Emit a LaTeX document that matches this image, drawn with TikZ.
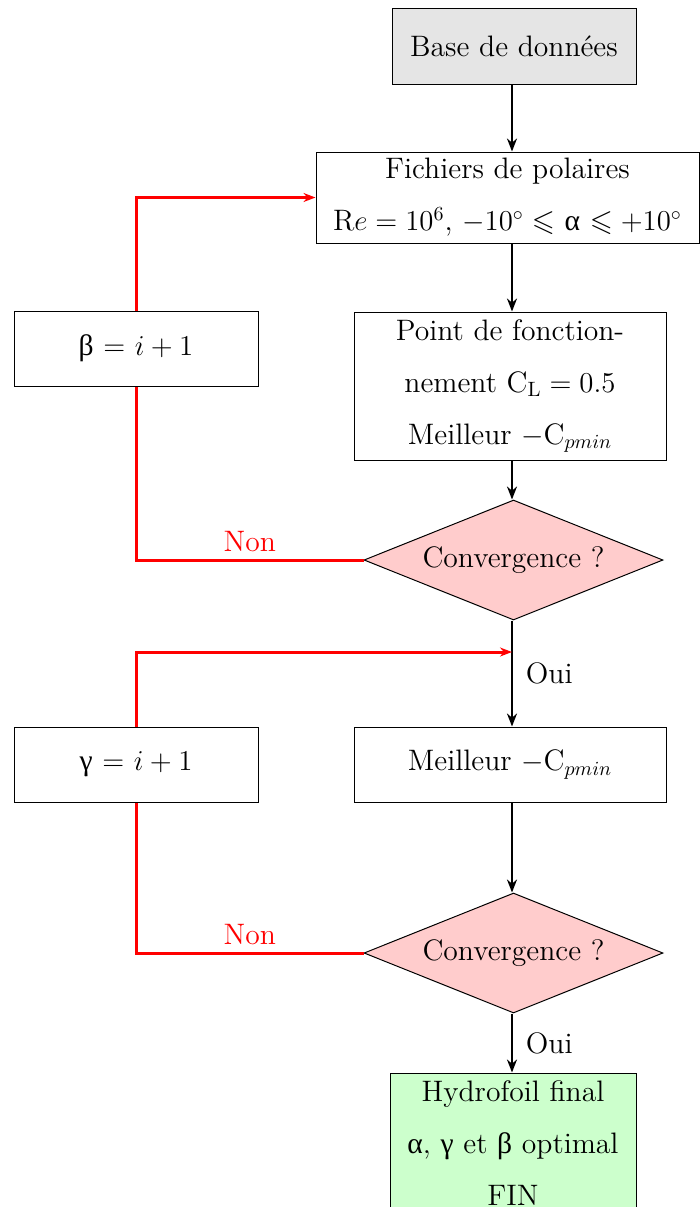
\documentclass[tikz,border=0pt]{standalone}
\usepackage{fontspec}
\usepackage{amssymb}
\usetikzlibrary{shapes.geometric,arrows.meta}
\newfontfamily\grk{Liberation Serif}
\begin{document}
\begin{tikzpicture}[x=0.5pt,y=-0.5pt,
  every node/.style={font=\fontsize{14.8}{26}\selectfont},
  box/.style={draw, line width=0.5pt, inner sep=0pt, align=center},
  arr/.style={line width=1.2pt, -{Stealth[length=6.5pt,width=5pt]}},
  redarr/.style={red, line width=1.5pt, -{Stealth[length=6pt,width=4.5pt]}},
  redline/.style={red, line width=1.5pt},
  dec/.style={diamond, draw, line width=0.5pt, fill=red!20, aspect=2.5, minimum width=149.5pt, minimum height=60pt, inner sep=0pt},
  lab/.style={font=\fontsize{14.8}{17}\selectfont}]
\useasboundingbox (0,0) rectangle (700,1207);
\node[box, fill=black!10, minimum width=122pt, minimum height=38pt] (base) at (514,46) {Base de données};
\node[box, minimum width=191.5pt, minimum height=45.5pt] (fich) at (507.5,197.5) {Fichiers de polaires\\ $\mathrm{R}e=10^6$, $-10^\circ\leqslant$ {\grk α} $\leqslant+10^\circ$};
\node[box, minimum width=156pt, minimum height=74pt] (point) at (510,386) {Point de fonction-\\nement $\mathrm{C_L}=0.5$\\Meilleur $-\mathrm{C}_{pmin}$};
\node[dec] (conv1) at (513.5,560) {Convergence ?};
\node[box, minimum width=122pt, minimum height=37.5pt] (beta) at (136,348.5) {{\grk β} $=$ $i+1$};
\node[box, minimum width=122pt, minimum height=37.5pt] (gamma) at (136,764.5) {{\grk γ} $=$ $i+1$};
\node[box, minimum width=156pt, minimum height=37.5pt] (meil) at (510,764.5) {Meilleur $-\mathrm{C}_{pmin}$};
\node[dec] (conv2) at (513.5,953) {Convergence ?};
\node[box, fill=green!20, minimum width=123pt, minimum height=70pt] (final) at (513,1143) {Hydrofoil final\\ {\grk α}, {\grk γ} et {\grk β} optimal\\FIN};
\coordinate (x0) at (512,0);
\coordinate (j) at (512,652);
\draw[arr] (base.south -| x0) -- (fich.north -| x0);
\draw[arr] (fich.south -| x0) -- (point.north -| x0);
\draw[arr] (point.south -| x0) -- (conv1.north -| x0);
\draw[arr] (conv1.south -| x0) -- (meil.north -| x0) node[midway, right, lab, xshift=3pt] {Oui};
\draw[arr] (meil.south -| x0) -- (conv2.north -| x0);
\draw[arr] (conv2.south -| x0) -- (final.north -| x0) node[midway, right, lab, xshift=3pt] {Oui};
\draw[redline] (conv1.west) -- (beta.south |- conv1.west) node[midway, above, lab, text=red] {Non} -- (beta.south);
\draw[redarr] (beta.north) |- (fich.west);
\draw[redline] (conv2.west) -- (gamma.south |- conv2.west) node[midway, above, lab, text=red] {Non} -- (gamma.south);
\draw[redarr] (gamma.north) |- (j);
\end{tikzpicture}
\end{document}
